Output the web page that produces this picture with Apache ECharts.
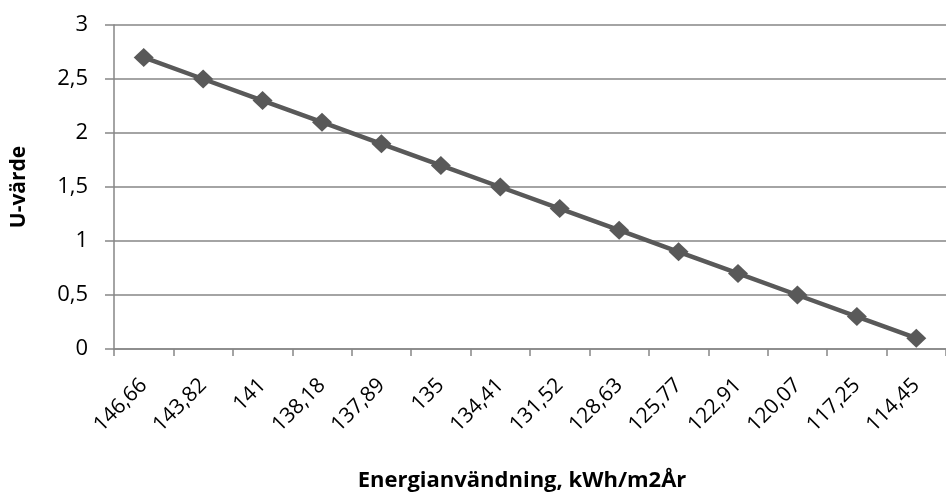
<!DOCTYPE html>
<html>
<head>
<meta charset="utf-8">
<script src="https://cdn.jsdelivr.net/npm/echarts@6/dist/echarts.min.js"></script>
<style>
  html, body { margin: 0; padding: 0; background: #fff; }
  #chart { width: 946px; height: 497px; }
</style>
</head>
<body>
<div id="chart"></div>
<script>
// Energy use per U-value step
const categories = ['146,66', '143,82', '141', '138,18', '137,89', '135', '134,41',
                    '131,52', '128,63', '125,77', '122,91', '120,07', '117,25', '114,45'];
const uValues = [2.7, 2.5, 2.3, 2.1, 1.9, 1.7, 1.5, 1.3, 1.1, 0.9, 0.7, 0.5, 0.3, 0.1];
const yTicks = { min: 0, max: 3, interval: 0.5 };

const FONT = '"Open Sans", "Noto Sans", sans-serif';
const GRID_GRAY = '#868686';

const chart = echarts.init(document.getElementById('chart'), null, { renderer: 'canvas' });
chart.setOption({
  animation: false,
  backgroundColor: '#ffffff',
  grid: { left: 114, top: 25, width: 840, height: 324, containLabel: false },
  xAxis: {
    type: 'category',
    data: categories,
    boundaryGap: true,
    axisLine: { show: true, lineStyle: { color: GRID_GRAY, width: 1.5 } },
    axisTick: { show: true, length: 7, alignWithLabel: false, lineStyle: { color: GRID_GRAY, width: 1.5 } },
    axisLabel: {
      rotate: 45, margin: 33, color: '#000', fontFamily: FONT, fontSize: 21,
      interval: 0
    },
    name: 'Energianvändning, kWh/m2År',
    nameLocation: 'middle',
    nameGap: 121,
    nameTextStyle: { fontFamily: FONT, fontSize: 22, fontWeight: 'bold', color: '#000', padding: [0, 16, 0, 0] }
  },
  yAxis: {
    type: 'value',
    min: yTicks.min, max: yTicks.max, interval: yTicks.interval,
    axisLine: { show: true, lineStyle: { color: GRID_GRAY, width: 1.5 } },
    axisTick: { show: true, inside: false, length: 9, lineStyle: { color: GRID_GRAY, width: 1.5 } },
    splitLine: { show: true, lineStyle: { color: GRID_GRAY, width: 1.5 } },
    axisLabel: {
      margin: 26, color: '#000', fontFamily: FONT, fontSize: 22,
      formatter: v => String(v).replace('.', ',')
    },
    name: 'U-värde',
    nameLocation: 'middle',
    nameGap: 84,
    nameTextStyle: { fontFamily: FONT, fontSize: 21, fontWeight: 'bold', color: '#000' }
  },
  series: [{
    type: 'line',
    data: uValues,
    symbol: 'diamond',
    symbolSize: [20, 19],
    lineStyle: { color: '#595959', width: 4.5 },
    itemStyle: { color: '#595959' },
    emphasis: { disabled: true }
  }]
});
</script>
</body>
</html>
